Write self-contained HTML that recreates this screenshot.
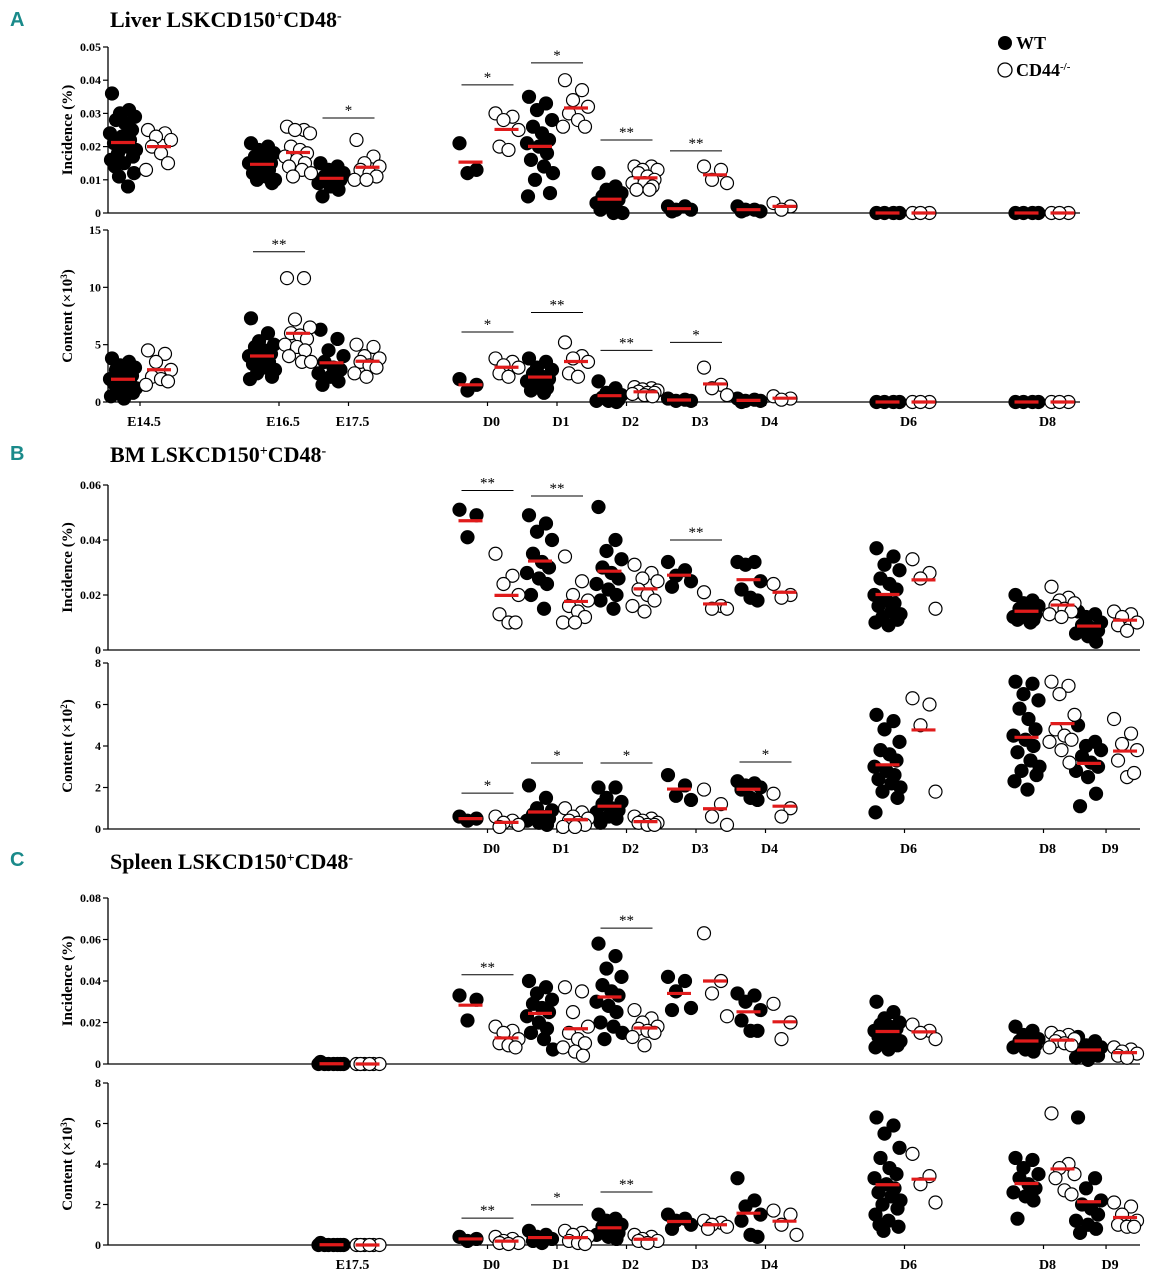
<!DOCTYPE html>
<html><head><meta charset="utf-8">
<style>
html,body{margin:0;padding:0;background:#fff;}
svg{display:block;font-family:"Liberation Serif",serif;}
</style></head>
<body>
<svg id="chart" width="1152" height="1280" xmlns="http://www.w3.org/2000/svg">
  <text x="10" y="26" font-family="Liberation Sans, sans-serif" font-size="20" font-weight="bold" fill="#1a8a8a">A</text>
  <text x="110" y="27" font-size="22" font-weight="bold">Liver LSKCD150<tspan baseline-shift="super" font-size="14">+</tspan>CD48<tspan baseline-shift="super" font-size="14">-</tspan></text>
  <text x="10" y="460" font-family="Liberation Sans, sans-serif" font-size="20" font-weight="bold" fill="#1a8a8a">B</text>
  <text x="110" y="462" font-size="22" font-weight="bold">BM LSKCD150<tspan baseline-shift="super" font-size="14">+</tspan>CD48<tspan baseline-shift="super" font-size="14">-</tspan></text>
  <text x="10" y="866" font-family="Liberation Sans, sans-serif" font-size="20" font-weight="bold" fill="#1a8a8a">C</text>
  <text x="110" y="869" font-size="22" font-weight="bold">Spleen LSKCD150<tspan baseline-shift="super" font-size="14">+</tspan>CD48<tspan baseline-shift="super" font-size="14">-</tspan></text>
  <g>
    <circle cx="1005" cy="43" r="7" fill="#000"/>
    <text x="1016" y="49" font-size="18" font-weight="bold">WT</text>
    <circle cx="1005" cy="70" r="7" fill="#fff" stroke="#000" stroke-width="1.3"/>
    <text x="1016" y="76" font-size="18" font-weight="bold">CD44<tspan baseline-shift="super" font-size="11">-/-</tspan></text>
  </g>
</svg>
<script>
// category time positions
const catNames = ["E14.5","E16.5","E17.5","D0","D1","D2","D3","D4","D6","D8","D9"];
const catTime  = [0,2,3,5,6,7,8,9,11,13,13.9];

// ---- Panel A: Liver incidence
const liverIncCats = ["E14.5","E16.5","E17.5","D0","D1","D2","D3","D4","D6","D8"];
const liverIncWT = [
 [0.036,0.031,0.03,0.029,0.028,0.027,0.025,0.024,0.023,0.022,0.021,0.02,0.019,0.018,0.017,0.016,0.015,0.014,0.012,0.011,0.008],
 [0.021,0.02,0.019,0.018,0.017,0.016,0.015,0.015,0.014,0.013,0.012,0.011,0.01,0.01,0.009],
 [0.015,0.014,0.013,0.012,0.011,0.011,0.01,0.009,0.008,0.007,0.005],
 [0.021,0.013,0.012],
 [0.035,0.033,0.031,0.028,0.026,0.024,0.022,0.021,0.02,0.018,0.016,0.014,0.012,0.01,0.006,0.005],
 [0.012,0.008,0.007,0.006,0.005,0.005,0.004,0.003,0.002,0.001,0.001,0,0],
 [0.002,0.002,0.001,0.001,0.0005],
 [0.002,0.001,0.001,0.0005,0.0005],
 [0,0,0,0],[0,0,0,0]];
const liverIncKO = [
 [0.025,0.024,0.023,0.022,0.02,0.018,0.015,0.013],
 [0.026,0.025,0.025,0.024,0.02,0.019,0.018,0.017,0.016,0.015,0.014,0.013,0.012,0.011],
 [0.022,0.017,0.015,0.014,0.013,0.012,0.011,0.01,0.01],
 [0.03,0.029,0.028,0.025,0.02,0.019],
 [0.04,0.037,0.034,0.032,0.03,0.028,0.026,0.026],
 [0.014,0.014,0.013,0.013,0.012,0.011,0.01,0.009,0.009,0.008,0.007,0.007],
 [0.014,0.013,0.01,0.009],
 [0.003,0.002,0.001],
 [0,0,0],[0,0,0]];
const liverIncSig = [["E17.5",0.0286,"*"],["D0",0.0386,"*"],["D1",0.0452,"*"],["D2",0.022,"**"],["D3",0.0187,"**"]];
const liverIncTicks = [0,0.01,0.02,0.03,0.04,0.05];

// ---- Panel A: Liver content
const liverConWT = [
 [3.8,3.5,3.2,3,2.8,2.5,2.3,2,2,1.8,1.6,1.4,1.2,1,0.8,0.5,0.3],
 [7.3,6,5.3,5,4.8,4.5,4.2,4,3.8,3.5,3.3,3,2.8,2.5,2.2,2],
 [6.3,5.5,4.5,4,3.5,3,2.8,2.5,2.2,1.8,1.5],
 [2,1.5,1],
 [3.8,3.5,3,2.8,2.5,2.2,2,1.8,1.5,1.2,1,0.8],
 [1.8,1.2,0.8,0.6,0.4,0.3,0.2,0.1,0.1,0],
 [0.3,0.2,0.1,0.1],
 [0.3,0.2,0.1,0.1,0],
 [0,0,0,0],[0,0,0,0]];
const liverConKO = [
 [4.5,4.2,3.5,2.8,2.2,2,1.8,1.5],
 [10.8,10.8,7.2,6.5,6,5.8,5.5,5,4.8,4.5,4,3.5,3.5],
 [5,4.8,4,3.8,3.5,3.2,3,2.5,2.2],
 [3.8,3.5,3.2,3,2.5,2.2],
 [5.2,4,3.8,3.5,2.5,2.2],
 [1.3,1.2,1.1,1,0.9,0.8,0.8,0.7,0.6,0.5],
 [3,1.5,1.2,0.6],
 [0.5,0.3,0.2],
 [0,0,0],[0,0,0]];
const liverConSig = [["E16.5",13.1,"**"],["D0",6.1,"*"],["D1",7.8,"**"],["D2",4.5,"**"],["D3",5.2,"*"]];
const liverConTicks = [0,5,10,15];

// ---- Panel B: BM
const bmCats = ["D0","D1","D2","D3","D4","D6","D8","D9"];
const bmIncWT = [
 [0.051,0.049,0.041],
 [0.049,0.046,0.043,0.04,0.035,0.032,0.03,0.028,0.026,0.024,0.02,0.015],
 [0.052,0.04,0.036,0.033,0.03,0.028,0.026,0.024,0.022,0.02,0.018,0.015],
 [0.032,0.029,0.027,0.025,0.023],
 [0.032,0.032,0.031,0.025,0.022,0.019,0.018],
 [0.037,0.034,0.031,0.029,0.026,0.024,0.022,0.02,0.018,0.017,0.016,0.014,0.013,0.012,0.011,0.01,0.009],
 [0.02,0.018,0.017,0.016,0.015,0.014,0.013,0.012,0.012,0.011,0.011,0.01],
 [0.014,0.013,0.012,0.01,0.009,0.008,0.007,0.006,0.005,0.003]];
const bmIncKO = [
 [0.035,0.027,0.024,0.02,0.013,0.01,0.01],
 [0.034,0.025,0.02,0.018,0.016,0.014,0.012,0.01,0.01],
 [0.031,0.028,0.026,0.025,0.022,0.02,0.018,0.016,0.014],
 [0.021,0.016,0.015,0.015],
 [0.024,0.02,0.019],
 [0.033,0.028,0.026,0.015],
 [0.023,0.019,0.018,0.017,0.016,0.015,0.014,0.013,0.012],
 [0.014,0.013,0.012,0.01,0.009,0.007]];
const bmIncSig = [["D0",0.058,"**"],["D1",0.056,"**"],["D3",0.04,"**"]];
const bmIncTicks = [0,0.02,0.04,0.06];
const bmConWT = [
 [0.6,0.5,0.4],
 [2.1,1.5,1,0.9,0.7,0.6,0.5,0.4,0.3,0.2],
 [2,2,1.5,1.3,1.2,1,0.9,0.8,0.6,0.5,0.3],
 [2.6,2.1,1.6,1.4],
 [2.3,2.2,2.1,2,1.9,1.5,1.4],
 [5.5,5.2,4.8,4.2,3.8,3.6,3.3,3,2.8,2.6,2.4,2.2,2,1.8,1.5,0.8],
 [7.1,7,6.5,6.2,5.8,5.3,4.8,4.5,4.3,4,3.7,3.3,3,2.8,2.6,2.3,1.9],
 [5,4.2,4,3.8,3.5,3.2,3,2.8,2.5,1.7,1.1]];
const bmConKO = [
 [0.6,0.4,0.3,0.2,0.1],
 [1,0.8,0.6,0.5,0.4,0.3,0.2,0.1,0.1],
 [0.6,0.5,0.4,0.3,0.3,0.2,0.2],
 [1.9,1.2,0.6,0.2],
 [1.7,1,0.6],
 [6.3,6,5,1.8],
 [7.1,6.9,6.5,5.5,4.8,4.5,4.3,4.2,3.8,3.2],
 [5.3,4.6,4.1,3.8,3.3,2.5,2.7]];
const bmConSig = [["D0",1.73,"*"],["D1",3.18,"*"],["D2",3.18,"*"],["D4",3.23,"*"]];
const bmConTicks = [0,2,4,6,8];

// ---- Panel C: Spleen
const spCats = ["E17.5","D0","D1","D2","D3","D4","D6","D8","D9"];
const spIncWT = [
 [0.001,0,0,0,0,0,0,0],
 [0.033,0.031,0.021],
 [0.04,0.037,0.034,0.031,0.029,0.027,0.025,0.023,0.02,0.017,0.015,0.012,0.007],
 [0.058,0.052,0.046,0.042,0.038,0.035,0.033,0.03,0.028,0.025,0.02,0.018,0.015,0.012],
 [0.042,0.04,0.035,0.027,0.026],
 [0.034,0.033,0.03,0.026,0.021,0.016,0.016],
 [0.03,0.025,0.022,0.02,0.019,0.018,0.017,0.016,0.015,0.014,0.013,0.012,0.011,0.01,0.009,0.008,0.007],
 [0.018,0.016,0.014,0.012,0.011,0.01,0.009,0.008,0.007,0.006],
 [0.013,0.011,0.009,0.008,0.006,0.005,0.004,0.003,0.002]];
const spIncKO = [
 [0,0,0,0,0,0],
 [0.018,0.016,0.015,0.012,0.01,0.009,0.008],
 [0.037,0.035,0.025,0.018,0.015,0.012,0.01,0.008,0.006,0.004],
 [0.026,0.022,0.02,0.018,0.017,0.016,0.015,0.013,0.009],
 [0.063,0.04,0.034,0.023],
 [0.029,0.02,0.012],
 [0.019,0.016,0.015,0.012],
 [0.015,0.014,0.013,0.012,0.011,0.01,0.009,0.008],
 [0.008,0.007,0.006,0.005,0.004,0.003]];
const spIncSig = [["D0",0.043,"**"],["D2",0.0655,"**"]];
const spIncTicks = [0,0.02,0.04,0.06,0.08];
const spConWT = [
 [0.1,0,0,0,0,0,0,0],
 [0.4,0.3,0.2],
 [0.7,0.5,0.4,0.3,0.2,0.1],
 [1.5,1.3,1.2,1,0.9,0.8,0.6,0.5,0.4,0.3],
 [1.5,1.3,1.2,1,0.8],
 [3.3,2.2,1.9,1.5,1.2,0.5,0.4],
 [6.3,5.9,5.5,4.8,4.3,3.8,3.5,3.3,3,2.8,2.6,2.4,2.2,2,1.8,1.5,1.2,1,0.9,0.7],
 [4.3,4.2,3.8,3.5,3.3,3,2.8,2.6,2.4,2.2,1.3],
 [6.3,3.3,2.8,2.2,2,1.8,1.5,1.2,1,0.8,0.6]];
const spConKO = [
 [0,0,0,0,0,0],
 [0.4,0.3,0.2,0.1,0.1,0.05],
 [0.7,0.6,0.5,0.4,0.2,0.1,0.05],
 [0.5,0.4,0.3,0.2,0.2,0.1],
 [1.2,1.1,1,0.9,0.8],
 [1.7,1.5,1,0.5],
 [4.5,3.4,3,2.1],
 [6.5,4,3.8,3.5,3.3,2.7,2.5],
 [2.1,1.9,1.5,1.2,1,0.9,0.9]];
const spConSig = [["D0",1.33,"**"],["D1",1.98,"*"],["D2",2.62,"**"]];
const spConTicks = [0,2,4,6,8];

const NS = "http://www.w3.org/2000/svg";
const svg = document.getElementById("chart");
const jitterPattern = [-11,6,-3,12,-7,2,9,-13,-1,7,-9,4,13,-5,10,-12,1,-8,11,-4,5];
function X(cat){ return 140 + 69.5*catTime[catNames.indexOf(cat)]; }
function mk(tag, attrs, parent){
  const e = document.createElementNS(NS, tag);
  for (const k in attrs) e.setAttribute(k, attrs[k]);
  (parent||svg).appendChild(e); return e;
}

function subplot(o){
  const g = mk("g", {});
  
  
  const Y = v => o.bottom - (v/o.max)*(o.bottom-o.top);
  const ya = mk("line",{x1:108,x2:108,y1:o.top,y2:o.bottom,stroke:"#000","stroke-width":1.3},g);
  
  
  const xa = mk("line",{x1:108,x2:o.right,y1:o.bottom,y2:o.bottom,stroke:"#000","stroke-width":1.3},g);
  
  
  o.ticks.forEach(t=>{
    mk("line",{x1:103,x2:108,y1:Y(t),y2:Y(t),stroke:"#000","stroke-width":1.2},g);
    const tl = mk("text",{x:101,y:Y(t)+4,"text-anchor":"end","font-size":12,"font-weight":"bold"},g);
    tl.textContent = o.fmt(t);
    
    
  });
  const cy = (o.top+o.bottom)/2;
  const yt = mk("text",{x:72,y:cy,"text-anchor":"middle","font-size":15,"font-weight":"bold",transform:`rotate(-90 72 ${cy})`},g);
  yt.innerHTML = o.title;
  
  
  if (o.xlabels){
    o.cats.forEach(c=>{
      mk("line",{x1:X(c),x2:X(c),y1:o.bottom,y2:o.bottom+4,stroke:"#000","stroke-width":1.2},g);
      const xl = mk("text",{x:X(c)+4,y:o.bottom+24,"text-anchor":"middle","font-size":14,"font-weight":"bold"},g);
      xl.textContent = c;
      
      
    });
  }
  const series = [[o.wt,-17,"#000","wt"],[o.ko,19,"#fff","ko"]];
  series.forEach(([arr,off,fill,nm])=>{
    arr.forEach((vals,gi)=>{
      const cx0 = X(o.cats[gi]) + off;
      vals.forEach((v,i)=>{
        const jx = jitterPattern[i % jitterPattern.length];
        const c = mk("circle",{cx:cx0+jx,cy:Y(v),r:6.5,fill:fill,stroke:"#000","stroke-width":1.2},g);
        
        
      });
      const mean = vals.reduce((a,b)=>a+b,0)/vals.length;
      const ml = mk("line",{x1:cx0-12,x2:cx0+12,y1:Y(mean),y2:Y(mean),stroke:"#e01b1b","stroke-width":3.2},g);
      
      
    });
  });
  o.sig.forEach(([c,v,s])=>{
    const y = Y(v);
    const b = mk("line",{x1:X(c)-26,x2:X(c)+26,y1:y,y2:y,stroke:"#000","stroke-width":1},g);
    
    
    const st = mk("text",{x:X(c),y:y-3,"text-anchor":"middle","font-size":15},g);
    st.textContent = s;
    
    
  });
}
const fInc = t => t===0 ? "0" : String(Math.round(t*100)/100);
const fInt = t => String(t);
subplot({name:"liver-incidence",top:47,bottom:213,right:1080,max:0.05,ticks:liverIncTicks,fmt:fInc,title:"Incidence (%)",cats:liverIncCats,wt:liverIncWT,ko:liverIncKO,sig:liverIncSig,xlabels:false});
subplot({name:"liver-content",top:230,bottom:402,right:1080,max:15,ticks:liverConTicks,fmt:fInt,title:"Content (×10<tspan baseline-shift='super' font-size='9'>3</tspan>)",cats:liverIncCats,wt:liverConWT,ko:liverConKO,sig:liverConSig,xlabels:true});
subplot({name:"bm-incidence",top:485,bottom:650,right:1140,max:0.06,ticks:bmIncTicks,fmt:fInc,title:"Incidence (%)",cats:bmCats,wt:bmIncWT,ko:bmIncKO,sig:bmIncSig,xlabels:false});
subplot({name:"bm-content",top:663,bottom:829,right:1140,max:8,ticks:bmConTicks,fmt:fInt,title:"Content (×10<tspan baseline-shift='super' font-size='9'>2</tspan>)",cats:bmCats,wt:bmConWT,ko:bmConKO,sig:bmConSig,xlabels:true});
subplot({name:"spleen-incidence",top:898,bottom:1064,right:1140,max:0.08,ticks:spIncTicks,fmt:fInc,title:"Incidence (%)",cats:spCats,wt:spIncWT,ko:spIncKO,sig:spIncSig,xlabels:false});
subplot({name:"spleen-content",top:1083,bottom:1245,right:1140,max:8,ticks:spConTicks,fmt:fInt,title:"Content (×10<tspan baseline-shift='super' font-size='9'>3</tspan>)",cats:spCats,wt:spConWT,ko:spConKO,sig:spConSig,xlabels:true});
</script>
</body></html>
